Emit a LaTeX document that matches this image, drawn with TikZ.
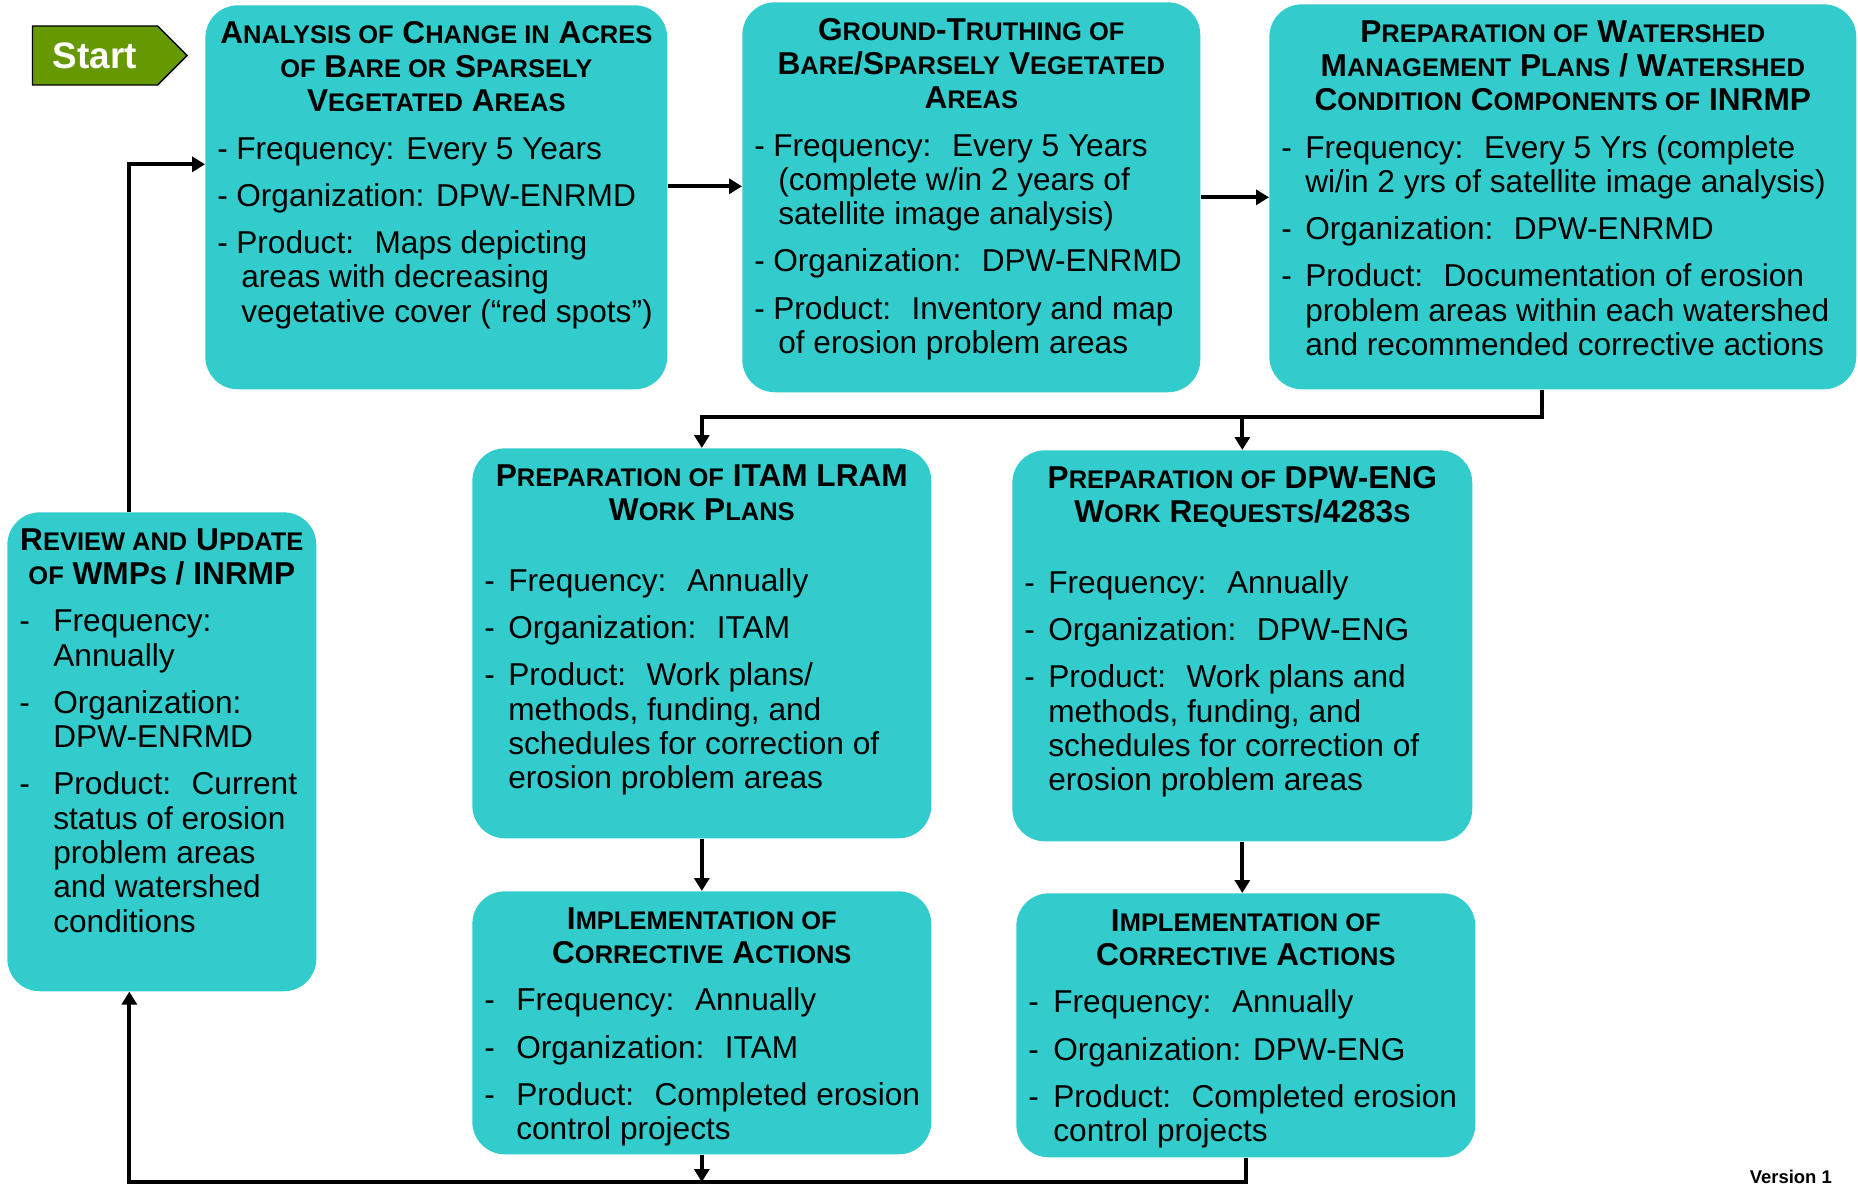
\documentclass[tikz,border=0pt]{standalone}
\usepackage{fontspec}
\setmainfont{Liberation Sans}
\usepackage{tikz}
\usetikzlibrary{arrows.meta,shapes.symbols}

\definecolor{boxcyan}{RGB}{51,204,204}
\definecolor{startgreen}{RGB}{102,153,0}

\newcommand{\smc}[1]{{\fontsize{14.5}{19.5}\selectfont #1}}
\newcommand{\titlefont}{\fontsize{18}{19.5}\selectfont\bfseries}
\newcommand{\bodyfont}{\fontsize{18}{19.5}\selectfont}
\newcommand{\boxsetup}{\raggedright\setlength{\parskip}{7.4pt}\bodyfont}
\newcommand{\boxtitle}[1]{{\centering\titlefont\strut #1\par}}
\newcommand{\itm}[3]{\par\hangindent=#2\hangafter=1\noindent\makebox[#1][l]{-}#3\par}
\newcommand{\boxtext}[3]{\parbox[c][\dimexpr#2-16pt\relax][t]{\dimexpr#1-0.48cm\relax}{\boxsetup#3}}

\begin{document}
\begin{tikzpicture}[x=0.02cm, y=-0.02cm,
  box/.style={fill=boxcyan, rounded corners=0.65cm, anchor=north west, inner xsep=0.24cm, inner ysep=8pt},
  startbox/.style={signal, signal to=east, signal pointer angle=90, draw=black, line width=0.8pt,
    fill=startgreen, text=white, font=\fontsize{21}{24}\selectfont\bfseries,
    minimum height=1.18cm, inner xsep=0.41cm},
  flow/.style={line width=2.2pt, -{Triangle[length=0.26cm,width=0.3cm]}},
  line/.style={line width=2.2pt}]
\useasboundingbox (0,0) rectangle (1858,1185);

% start marker
\node[startbox] (start) at (95,55.5) {Start};

% top row
\node[box] (anal) at (205,5) {\boxtext{9.24cm}{7.68cm}{%
  \boxtitle{A\smc{NALYSIS OF} C\smc{HANGE IN} A\smc{CRES}\\ \smc{OF} B\smc{ARE OR} S\smc{PARSELY}\\ V\smc{EGETATED} A\smc{REAS}}
  \itm{0.38cm}{0.48cm}{Frequency: Every 5 Years}
  \itm{0.38cm}{0.48cm}{Organization: DPW-ENRMD}
  \itm{0.38cm}{0.48cm}{Product:~ Maps depicting\newline areas with decreasing\newline vegetative cover (“red spots”)}}};
\node[box] (grnd) at (742,2) {\boxtext{9.16cm}{7.8cm}{%
  \boxtitle{G\smc{ROUND}-T\smc{RUTHING OF}\\ B\smc{ARE}/S\smc{PARSELY} V\smc{EGETATED}\\ A\smc{REAS}}
  \itm{0.38cm}{0.48cm}{Frequency:~ Every 5 Years\newline (complete w/in 2 years of\newline satellite image analysis)}
  \itm{0.38cm}{0.48cm}{Organization:~ DPW-ENRMD}
  \itm{0.38cm}{0.48cm}{Product:~ Inventory and map\newline of erosion problem areas}}};
\node[box] (wshd) at (1269,4) {\boxtext{11.74cm}{7.7cm}{%
  \boxtitle{P\smc{REPARATION OF} W\smc{ATERSHED}\\ M\smc{ANAGEMENT} P\smc{LANS} / W\smc{ATERSHED}\\ C\smc{ONDITION} C\smc{OMPONENTS OF} INRMP}
  \itm{0.48cm}{0.48cm}{Frequency:~ Every 5 Yrs (complete\newline wi/in 2 yrs of satellite image analysis)}
  \itm{0.48cm}{0.48cm}{Organization:~ DPW-ENRMD}
  \itm{0.48cm}{0.48cm}{Product:~ Documentation of erosion\newline problem areas within each watershed\newline and recommended corrective actions}}};

% review box on the left
\node[box] (revw) at (7,512) {\boxtext{6.18cm}{9.58cm}{%
  \boxtitle{R\smc{EVIEW AND} U\smc{PDATE}\\ \smc{OF} WMP\smc{S} / INRMP}
  \itm{0.68cm}{0.68cm}{Frequency:\newline Annually}
  \itm{0.68cm}{0.68cm}{Organization:\newline DPW-ENRMD}
  \itm{0.68cm}{0.68cm}{Product:~ Current\newline status of erosion\newline problem areas\newline and watershed\newline conditions}}};

% work plans
\node[box] (itam) at (472,448) {\boxtext{9.18cm}{7.8cm}{%
  \boxtitle{P\smc{REPARATION OF} ITAM LRAM\\ W\smc{ORK} P\smc{LANS}}
  \vspace{13.4pt}
  \itm{0.48cm}{0.48cm}{Frequency:~ Annually}
  \itm{0.48cm}{0.48cm}{Organization:~ ITAM}
  \itm{0.48cm}{0.48cm}{Product:~ Work plans/\newline methods, funding, and\newline schedules for correction of\newline erosion problem areas}}};
\node[box] (deng) at (1012,450) {\boxtext{9.2cm}{7.82cm}{%
  \boxtitle{P\smc{REPARATION OF} DPW-ENG\\ W\smc{ORK} R\smc{EQUESTS}/4283\smc{S}}
  \vspace{13.4pt}
  \itm{0.48cm}{0.48cm}{Frequency:~ Annually}
  \itm{0.48cm}{0.48cm}{Organization:~ DPW-ENG}
  \itm{0.48cm}{0.48cm}{Product:~ Work plans and\newline methods, funding, and\newline schedules for correction of\newline erosion problem areas}}};

% corrective actions
\node[box] (impa) at (472,891) {\boxtext{9.18cm}{5.26cm}{%
  \boxtitle{I\smc{MPLEMENTATION OF}\\ C\smc{ORRECTIVE} A\smc{CTIONS}}
  \itm{0.64cm}{0.64cm}{Frequency:~ Annually}
  \itm{0.64cm}{0.64cm}{Organization:~ ITAM}
  \itm{0.64cm}{0.64cm}{\mbox{Product:~ Completed erosion}\newline control projects}}};
\node[box] (impb) at (1016,893) {\boxtext{9.18cm}{5.28cm}{%
  \boxtitle{I\smc{MPLEMENTATION OF}\\ C\smc{ORRECTIVE} A\smc{CTIONS}}
  \itm{0.5cm}{0.5cm}{Frequency:~ Annually}
  \itm{0.5cm}{0.5cm}{Organization: DPW-ENG}
  \itm{0.5cm}{0.5cm}{\mbox{Product:~ Completed erosion}\newline control projects}}};

\node[anchor=east, font=\fontsize{10.5}{12}\selectfont\bfseries] (ver) at (1838,1177) {Version 1};

% connectors
\coordinate (wsplit) at (0,417);
\coordinate (low) at (0,1182);
\draw[flow] ([yshift=0.22cm]anal.east) -- ([yshift=0.22cm]anal.east -| grnd.west);
\draw[flow] (grnd.east) -- (grnd.east -| wshd.west);
\draw[flow] ([xshift=-0.42cm]wshd.south) |- (wsplit -| itam.north) -- (itam.north);
\draw[flow] (deng.north |- wsplit) -- (deng.north);
\draw[flow] (itam.south) -- (impa.north);
\draw[flow] (deng.south) -- (deng.south |- impb.north);
\draw[flow] (impa.south) -- (impa.south |- low);
\draw[flow] (impb.south) |- ([xshift=-0.65cm]revw.south |- low) -- ([xshift=-0.65cm]revw.south);
\draw[flow] ([xshift=-0.65cm]revw.north) |- ([yshift=0.66cm]anal.west);
\end{tikzpicture}
\end{document}
